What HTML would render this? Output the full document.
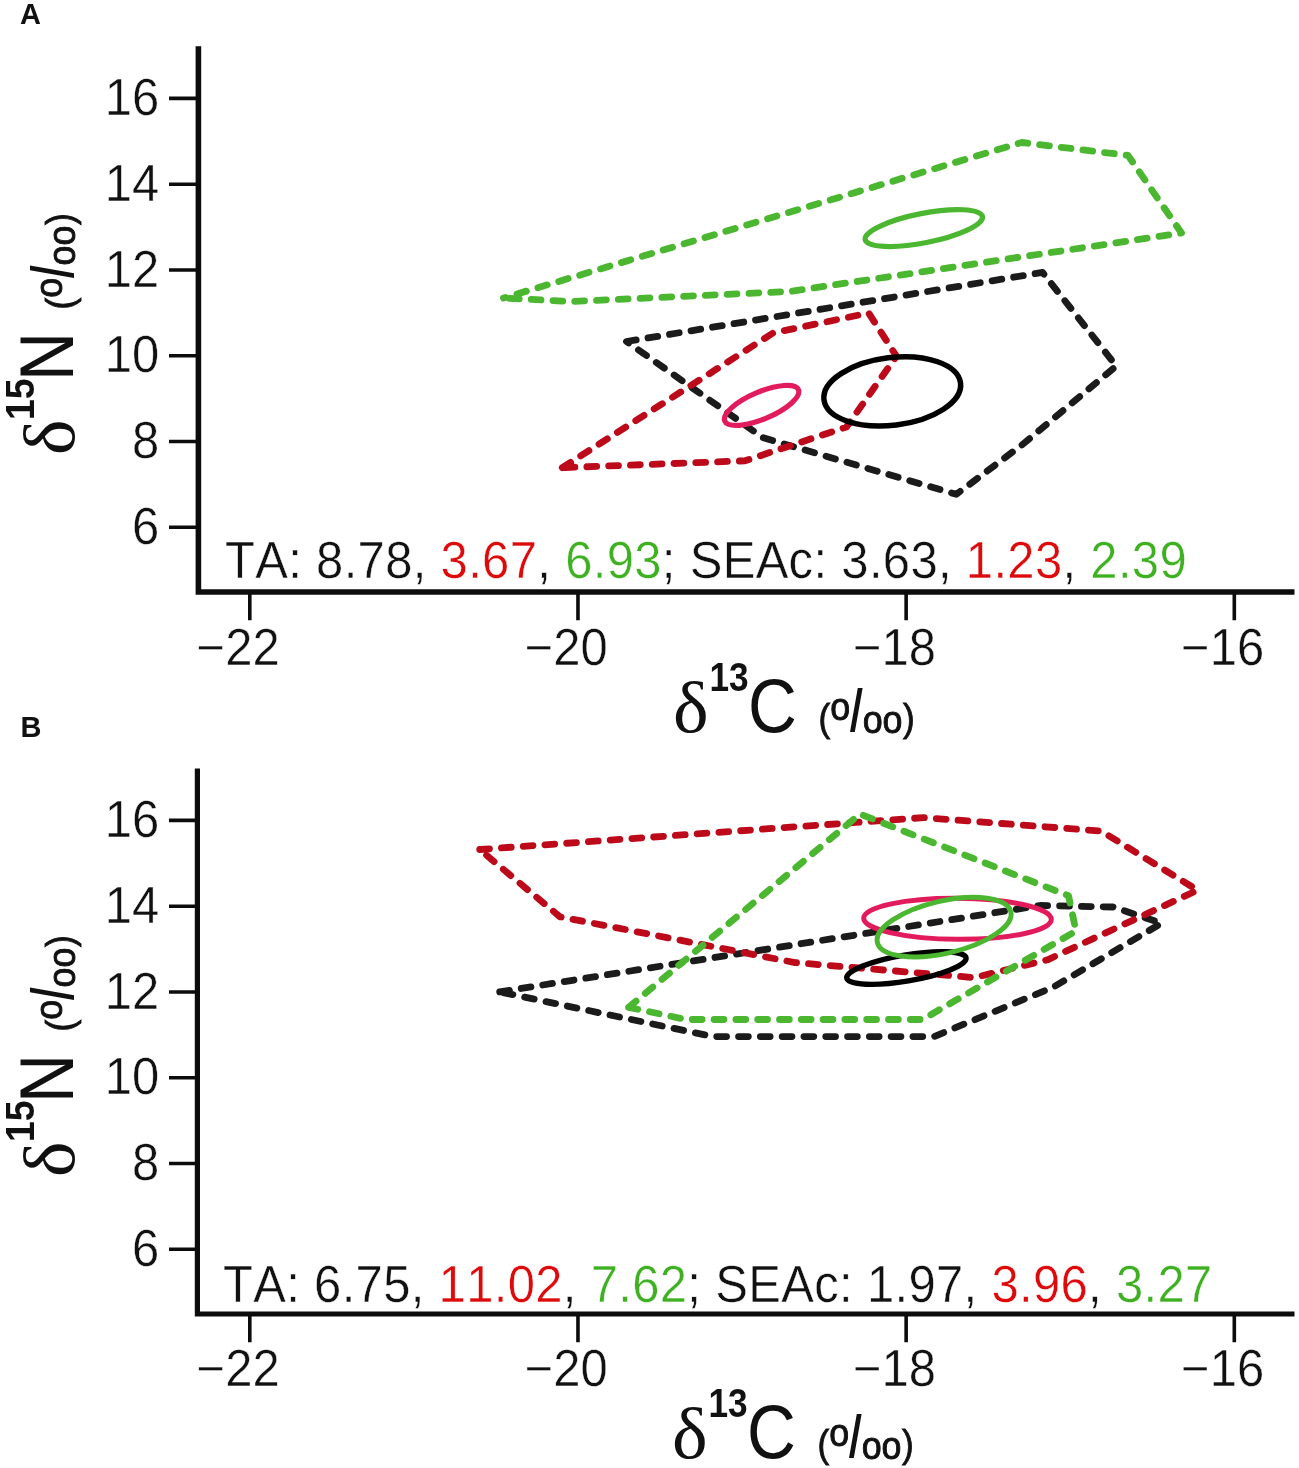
<!DOCTYPE html>
<html><head><meta charset="utf-8">
<style>
html,body{margin:0;padding:0;background:#fff;}
body{width:1299px;height:1468px;overflow:hidden;font-family:"Liberation Sans",sans-serif;}
svg{display:block;filter:blur(0.4px);}
text{font-family:"Liberation Sans",sans-serif;fill:#111;font-kerning:none;}
.tk{font-size:51.3px;stroke:#fff;stroke-width:0.45px;}
.ta{font-size:51.3px;letter-spacing:0.345px;stroke:#fff;stroke-width:0.45px;}
.ser{font-family:"Liberation Serif",serif;}
.ax{stroke:#0c0c0c;fill:none;stroke-linecap:butt;stroke-linejoin:miter;}
.tick{stroke:#0c0c0c;stroke-width:3.6;fill:none;}
.dash{fill:none;stroke-width:6.8;stroke-linecap:round;stroke-linejoin:round;stroke-dasharray:9.8 12;}
.el{fill:none;stroke-width:5.2;}
.g{stroke:#4bb62f;}
.r{stroke:#bd0a1b;}
.k{stroke:#1b1b1b;}
.p{stroke:#e21b5c;}
.pm text{stroke:#111;stroke-width:0.9;}
.tr{fill:#dd0a0c;}
.tg{fill:#3eb022;}
</style></head><body>
<svg width="1299" height="1468" viewBox="0 0 1299 1468">
<rect width="1299" height="1468" fill="#fff"/>

<!-- ================= PANEL A ================= -->
<g id="A">
<text id="m_A" x="20" y="24.300" font-size="29" font-weight="bold">A</text>
<path id="m_axA" class="ax" style="stroke-width:5.6" d="M198.4 46.2V592H1294.500"/>
<g class="tick">
<path id="m_ytA" d="M169 98.4H198M169 184.18H198M169 269.96H198M169 355.74H198M169 441.52H198M169 527.3H198"/>
<path id="m_xtA" d="M249.8 592V620.3M577.97 592V620.3M906.14 592V620.3M1234.31 592V620.3"/>
</g>
<g class="tk" text-anchor="end">
<text id="m_y16A" x="159.200" y="115" transform="translate(159.2 0) scale(0.955 1) translate(-159.2 0)">16</text><text x="159.200" y="200.78" transform="translate(159.2 0) scale(0.955 1) translate(-159.2 0)">14</text><text x="159.200" y="286.56" transform="translate(159.2 0) scale(0.955 1) translate(-159.2 0)">12</text><text x="159.200" y="372.34" transform="translate(159.2 0) scale(0.955 1) translate(-159.2 0)">10</text><text x="159.200" y="458.12" transform="translate(159.2 0) scale(0.955 1) translate(-159.2 0)">8</text><text x="159.200" y="543.9" transform="translate(159.2 0) scale(0.955 1) translate(-159.2 0)">6</text>
</g>
<g class="tk">
<text id="m_x22A" x="196.6" y="664.6" transform="translate(196.6 0) scale(0.955 1) translate(-196.6 0)">−22</text><text x="524.77" y="664.6" transform="translate(524.77 0) scale(0.955 1) translate(-524.77 0)">−20</text><text x="852.94" y="664.6" transform="translate(852.94 0) scale(0.955 1) translate(-852.94 0)">−18</text><text id="m_x16A" x="1181.11" y="664.6" transform="translate(1181.11 0) scale(0.955 1) translate(-1181.11 0)">−16</text>
</g>

<text id="m_taA" class="ta" x="225" y="578.300" transform="translate(225 0) scale(0.955 1) translate(-225 0)">TA: 8.78, <tspan class="tr">3.67</tspan>, <tspan class="tg">6.93</tspan>; SEAc: 3.63, <tspan class="tr">1.23</tspan>, <tspan class="tg">2.39</tspan></text>
<g id="xlA">
<text id="m_xd" class="ser" x="673" y="732" font-size="72" transform="translate(673 0) scale(1.05 1) translate(-673 0)">δ</text>
<text id="m_xsup" x="709.5" y="691.2" font-size="40" font-weight="bold" transform="translate(709.5 0) scale(0.88 1) translate(-709.5 0)">13</text>
<text id="m_xL" x="748" y="731.8" font-size="76" transform="translate(748 0) scale(0.89 1) translate(-748 0)">C</text>
<g class="pm">
<text id="m_xp1" x="818.500" y="731.400" font-size="39" transform="translate(818.5 0) scale(0.9 1) translate(-818.5 0)">(</text>
<text id="m_xo1" x="830.300" y="720" font-size="38.500" transform="translate(830.3 0) scale(0.93 1) translate(-830.3 0)">o</text>
<path id="m_xsl" d="M850 732H854.800L862.600 688H857.800Z" fill="#111"/>
<text id="m_xoo" x="862.700" y="733" font-size="38.500" transform="translate(862.7 0) scale(0.93 1) translate(-862.7 0)">oo</text>
<text id="m_xp2" x="903" y="731.400" font-size="39" transform="translate(903 0) scale(0.9 1) translate(-903 0)">)</text>
</g>
</g>
<g id="ylA" transform="translate(-658 1128.100) rotate(-90)">
<text id="m_yd" class="ser" x="673" y="732" font-size="72" transform="translate(673 0) scale(1.05 1) translate(-673 0)">δ</text>
<text id="m_ysup" x="708" y="692.5" font-size="40" font-weight="bold" transform="translate(708 0) scale(0.94 1) translate(-708 0)">15</text>
<text id="m_yL" x="747.2" y="730.6" font-size="75.4" transform="translate(747.2 0) scale(0.9 1) translate(-747.2 0)">N</text>
<g class="pm">
<text id="m_yp1" x="818.500" y="731.400" font-size="39" transform="translate(818.5 0) scale(0.9 1) translate(-818.5 0)">(</text>
<text id="m_yo1" x="830.300" y="720" font-size="38.500" transform="translate(830.3 0) scale(0.93 1) translate(-830.3 0)">o</text>
<path id="m_ysl" d="M850 732H854.800L862.600 688H857.800Z" fill="#111"/>
<text id="m_yoo" x="862.700" y="733" font-size="38.500" transform="translate(862.7 0) scale(0.93 1) translate(-862.7 0)">oo</text>
<text id="m_yp2" x="903" y="731.400" font-size="39" transform="translate(903 0) scale(0.9 1) translate(-903 0)">)</text>
</g>
</g>

<path id="m_pgA" class="dash g" stroke-dashoffset="7.700" d="M503.500 298L1021.700 142.500L1128 155.400L1181.500 233L790 291.500L570.500 301.500Z"/>
<path id="m_pkA" class="dash k" d="M626.500 341.500L1042.500 272.400L1116.300 366L1022.500 444.500L956.300 494.300L763 437.700Z"/>
<path id="m_prA" class="dash r" d="M562.300 467.700L773 333L868.700 313L896.400 356.200L846.500 427L745 460.800Z"/>
<ellipse id="m_egA" class="el g" cx="923.800" cy="228.100" rx="59.800" ry="14.700" transform="rotate(-11.100 923.800 228.100)"/>
<ellipse id="m_epA" class="el p" cx="761.600" cy="405.400" rx="40" ry="13.600" transform="rotate(-23 761.600 405.400)"/>
<ellipse id="m_ekA" class="el k" style="stroke:#000;stroke-width:5.5" cx="892.250" cy="391.400" rx="68.800" ry="33.800" transform="rotate(-7 892.250 391.400)"/>
</g>

<!-- ================= PANEL B ================= -->
<g id="B">
<text id="m_B" x="20.500" y="736.500" font-size="29" font-weight="bold">B</text>
<path id="m_axB" class="ax" style="stroke-width:5.2" d="M197.4 768.6V1314H1294.500"/>
<g class="tick">
<path id="m_ytB" d="M169 820.4H198M169 906.18H198M169 991.96H198M169 1077.74H198M169 1163.52H198M169 1249.3H198"/>
<path id="m_xtB" d="M249.8 1314V1342.3M577.97 1314V1342.3M906.14 1314V1342.3M1234.31 1314V1342.3"/>
</g>
<g class="tk" text-anchor="end">
<text id="m_y16B" x="159.200" y="837" transform="translate(159.2 0) scale(0.955 1) translate(-159.2 0)">16</text><text x="159.200" y="922.78" transform="translate(159.2 0) scale(0.955 1) translate(-159.2 0)">14</text><text x="159.200" y="1008.56" transform="translate(159.2 0) scale(0.955 1) translate(-159.2 0)">12</text><text x="159.200" y="1094.34" transform="translate(159.2 0) scale(0.955 1) translate(-159.2 0)">10</text><text x="159.200" y="1180.12" transform="translate(159.2 0) scale(0.955 1) translate(-159.2 0)">8</text><text x="159.200" y="1265.9" transform="translate(159.2 0) scale(0.955 1) translate(-159.2 0)">6</text>
</g>
<g class="tk">
<text id="m_x22B" x="196.6" y="1385.6" transform="translate(196.6 0) scale(0.955 1) translate(-196.6 0)">−22</text><text x="524.77" y="1385.6" transform="translate(524.77 0) scale(0.955 1) translate(-524.77 0)">−20</text><text x="852.94" y="1385.6" transform="translate(852.94 0) scale(0.955 1) translate(-852.94 0)">−18</text><text id="m_x16B" x="1181.11" y="1385.6" transform="translate(1181.11 0) scale(0.955 1) translate(-1181.11 0)">−16</text>
</g>

<text id="m_taB" class="ta" x="223" y="1302.400" transform="translate(223 0) scale(0.955 1) translate(-223 0)">TA: 6.75, <tspan class="tr">11.02</tspan>, <tspan class="tg">7.62</tspan>; SEAc: 1.97, <tspan class="tr">3.96</tspan>, <tspan class="tg">3.27</tspan></text>
<g id="xlB" transform="translate(-1 726)">
<text class="ser" x="673" y="732" font-size="72" transform="translate(673 0) scale(1.05 1) translate(-673 0)">δ</text>
<text x="709.5" y="691.2" font-size="40" font-weight="bold" transform="translate(709.5 0) scale(0.88 1) translate(-709.5 0)">13</text>
<text x="748" y="731.8" font-size="76" transform="translate(748 0) scale(0.89 1) translate(-748 0)">C</text>
<g class="pm">
<text x="818.500" y="731.400" font-size="39" transform="translate(818.5 0) scale(0.9 1) translate(-818.5 0)">(</text>
<text x="830.300" y="720" font-size="38.500" transform="translate(830.3 0) scale(0.93 1) translate(-830.3 0)">o</text>
<path d="M850 732H854.800L862.600 688H857.800Z" fill="#111"/>
<text x="862.700" y="733" font-size="38.500" transform="translate(862.7 0) scale(0.93 1) translate(-862.7 0)">oo</text>
<text x="903" y="731.400" font-size="39" transform="translate(903 0) scale(0.9 1) translate(-903 0)">)</text>
</g>
</g>
<g id="ylB" transform="translate(0 722) translate(-658 1128.100) rotate(-90)">
<text class="ser" x="673" y="732" font-size="72" transform="translate(673 0) scale(1.05 1) translate(-673 0)">δ</text>
<text x="708" y="692.5" font-size="40" font-weight="bold" transform="translate(708 0) scale(0.94 1) translate(-708 0)">15</text>
<text x="747.2" y="730.6" font-size="75.4" transform="translate(747.2 0) scale(0.9 1) translate(-747.2 0)">N</text>
<g class="pm">
<text x="818.500" y="731.400" font-size="39" transform="translate(818.5 0) scale(0.9 1) translate(-818.5 0)">(</text>
<text x="830.300" y="720" font-size="38.500" transform="translate(830.3 0) scale(0.93 1) translate(-830.3 0)">o</text>
<path d="M850 732H854.800L862.600 688H857.800Z" fill="#111"/>
<text x="862.700" y="733" font-size="38.500" transform="translate(862.7 0) scale(0.93 1) translate(-862.7 0)">oo</text>
<text x="903" y="731.400" font-size="39" transform="translate(903 0) scale(0.9 1) translate(-903 0)">)</text>
</g>
</g>

<path id="m_pkB" class="dash k" d="M499.700 991.900L1040 905.500L1113 907L1161.500 923.200L1053 987.300L934 1036.600L713 1036.600Z"/>
<path id="m_prB" class="dash r" d="M479.700 849.500L923.500 817.600L1101 831L1197.600 890.200L1047.500 959.800L974.200 977.600L795 962.600L560 916.800Z"/>
<path id="m_pgB" class="dash g" d="M628.500 1007.300L860 814L1068.500 895.700L1076 931L922.500 1019.500L686 1019.500Z"/>
<ellipse id="m_ekB" class="el k" style="stroke:#000;stroke-width:5.4" cx="906.400" cy="968" rx="60.500" ry="13" transform="rotate(-9.600 906.400 968)"/>
<ellipse id="m_epB" class="el p" style="stroke-width:5" cx="957.500" cy="918.800" rx="93.800" ry="20.500" transform="rotate(0.400 957.500 918.800)"/>
<ellipse id="m_egB" class="el g" style="stroke-width:5" cx="944.100" cy="927.100" rx="68.500" ry="26.200" transform="rotate(-13 944.100 927.100)"/>
</g>
</svg>
</body></html>
